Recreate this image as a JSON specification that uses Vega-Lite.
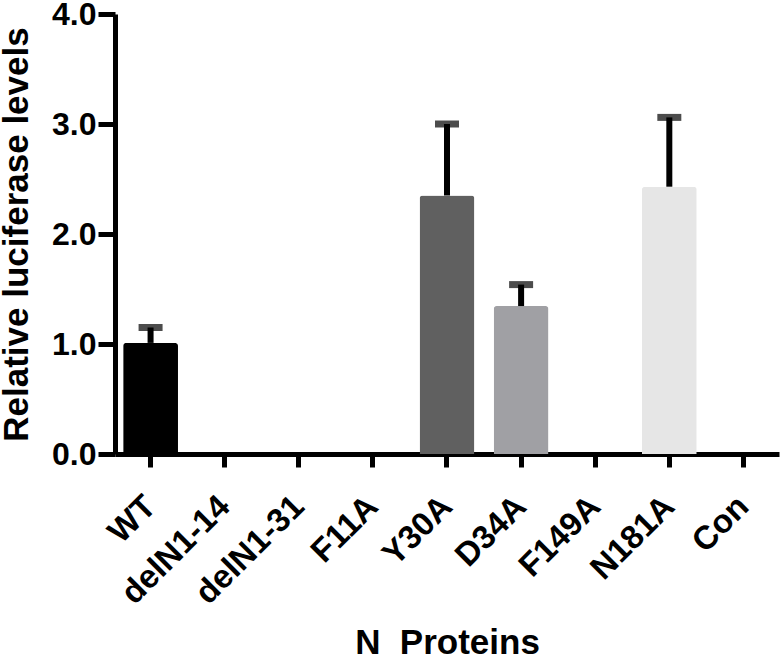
{
  "$schema": "https://vega.github.io/schema/vega-lite/v6.json",
  "width": 664,
  "height": 440,
  "autosize": {"type": "none"},
  "padding": {"left": 115, "top": 14, "right": 1, "bottom": 203},
  "background": "white",
  "data": {
    "values": [
      {"protein": "WT", "mean": 1.01, "upper": 1.15},
      {"protein": "delN1-14", "mean": 0, "upper": null},
      {"protein": "delN1-31", "mean": 0, "upper": null},
      {"protein": "F11A", "mean": 0, "upper": null},
      {"protein": "Y30A", "mean": 2.35, "upper": 3.0},
      {"protein": "D34A", "mean": 1.345, "upper": 1.54},
      {"protein": "F149A", "mean": 0, "upper": null},
      {"protein": "N181A", "mean": 2.43, "upper": 3.06},
      {"protein": "Con", "mean": 0, "upper": null}
    ]
  },
  "config": {
    "view": {"stroke": null},
    "font": "Liberation Sans",
    "axis": {
      "domainColor": "black",
      "domainWidth": 5,
      "tickColor": "black",
      "tickWidth": 5,
      "grid": false,
      "labelColor": "black",
      "labelFont": "Liberation Sans",
      "labelFontWeight": "bold",
      "titleFont": "Liberation Sans",
      "titleFontWeight": "bold",
      "titleColor": "black",
      "titleFontSize": 35
    }
  },
  "encoding": {
    "x": {
      "field": "protein",
      "type": "nominal",
      "sort": null,
      "scale": {"paddingInner": 0.26, "paddingOuter": 0.11},
      "axis": {
        "title": "N\u00a0\u00a0Proteins",
        "labelAngle": -45,
        "labelAlign": "right",
        "labelBaseline": "middle",
        "labelFontSize": 33,
        "labelPadding": 34,
        "tickSize": 13,
        "titleY": 199,
        "titleBaseline": "alphabetic"
      }
    }
  },
  "layer": [
    {
      "mark": {"type": "bar", "cornerRadiusTopLeft": 3, "cornerRadiusTopRight": 3},
      "encoding": {
        "y": {
          "field": "mean",
          "type": "quantitative",
          "scale": {"domain": [0, 4]},
          "axis": {
            "title": "Relative luciferase levels",
            "values": [0, 1, 2, 3, 4],
            "format": ".1f",
            "labelFontSize": 32,
            "labelPadding": 2,
            "tickSize": 17,
            "titleX": -99,
            "titleY": 220,
            "titleBaseline": "middle",
            "titleAnchor": "middle"
          }
        },
        "color": {
          "field": "protein",
          "type": "nominal",
          "legend": null,
          "scale": {
            "domain": ["WT", "delN1-14", "delN1-31", "F11A", "Y30A", "D34A", "F149A", "N181A", "Con"],
            "range": ["#000000", "#000000", "#000000", "#000000", "#606060", "#a0a0a4", "#000000", "#e6e6e6", "#000000"]
          }
        }
      }
    },
    {
      "mark": {"type": "rule", "color": "black", "strokeWidth": 6},
      "transform": [{"filter": "datum.upper != null"}],
      "encoding": {
        "y": {"field": "mean", "type": "quantitative"},
        "y2": {"field": "upper"}
      }
    },
    {
      "mark": {"type": "tick", "color": "black", "size": 24, "thickness": 7, "orient": "horizontal"},
      "transform": [{"filter": "datum.upper != null"}],
      "encoding": {
        "y": {"field": "upper", "type": "quantitative"}
      }
    }
  ]
}
